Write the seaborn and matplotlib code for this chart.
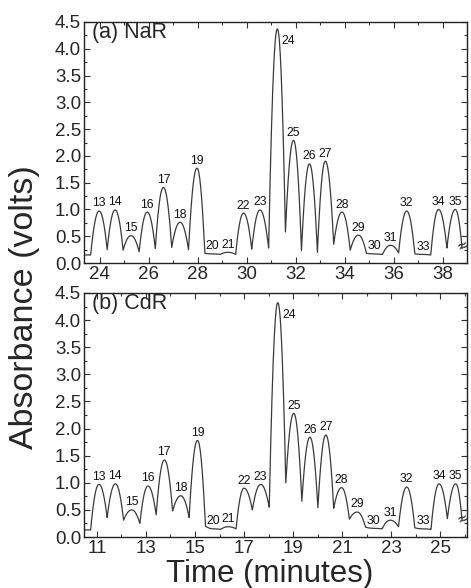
import numpy as np
import pandas as pd
import matplotlib
matplotlib.use("Agg")
import matplotlib.pyplot as plt
import seaborn as sns
from matplotlib.ticker import MultipleLocator, FormatStrFormatter

# ---------------- data ----------------
peak_ids = list(range(13, 36))

# (a) NaR
na_times = [23.97, 24.62, 25.27, 25.93, 26.59, 27.27, 27.96, 28.60, 29.22, 29.86,
            30.53, 31.24, 31.90, 32.55, 33.20, 33.88, 34.55, 35.20, 35.86, 36.52,
            37.18, 37.82, 38.50]
na_heights = [0.97, 0.99, 0.51, 0.95, 1.41, 0.76, 1.77, 0.17, 0.20, 0.93,
              0.99, 4.37, 2.29, 1.85, 1.90, 0.95, 0.52, 0.17, 0.33, 0.97,
              0.16, 1.00, 1.00]
na_valleys = [0.25, 0.24, 0.21, 0.27, 0.29, 0.25, 0.18, 0.16, 0.16, 0.26,
              0.28, 0.58, 0.23, 0.20, 0.35, 0.24, 0.18, 0.16, 0.19, 0.17,
              0.15, 0.28]
na_start = [23.35, 23.62, 0.15]   # x left, x rise, baseline
na_end = [38.78, 0.27]
na_xlim = [23.35, 38.98]
na_xticks = [24, 26, 28, 30, 32, 34, 36, 38]

# (b) CdR
cd_times = [11.08, 11.75, 12.42, 13.08, 13.75, 14.42, 15.10, 15.75, 16.35, 17.00,
            17.68, 18.38, 19.03, 19.69, 20.34, 20.98, 21.62, 22.30, 22.97, 23.64,
            24.30, 24.96, 25.64]
cd_heights = [0.97, 0.98, 0.50, 0.94, 1.42, 0.76, 1.78, 0.15, 0.19, 0.90,
              0.97, 4.32, 2.28, 1.84, 1.88, 0.91, 0.46, 0.16, 0.31, 0.92,
              0.15, 0.98, 0.98]
cd_valleys = [0.36, 0.31, 0.25, 0.41, 0.48, 0.36, 0.20, 0.14, 0.15, 0.50,
              0.55, 1.00, 0.66, 0.54, 0.53, 0.33, 0.18, 0.15, 0.19, 0.17,
              0.14, 0.34]
cd_start = [10.47, 10.74, 0.13]
cd_end = [25.90, 0.30]
cd_xlim = [10.47, 26.10]
cd_xticks = [11, 13, 15, 17, 19, 21, 23, 25]

# label placement offsets (peak 24 label sits to the right of the peak)
label_dx = {24: 0.45}
label_dy = {24: -0.36}


def shape(u):
    # steep walls near the valleys, rounded top, slightly softened valley
    power = 1 - (1 - u) ** 2.3
    smooth = 3 * u ** 2 - 2 * u ** 3
    return 0.85 * power + 0.15 * smooth


def build_trace(times, heights, valleys, start, end):
    vx = [start[1]] + [(times[i] + times[i + 1]) / 2 for i in range(len(times) - 1)] + [end[0]]
    vy = [start[2]] + list(valleys) + [end[1]]
    xs = [start[0]]
    ys = [start[2]]
    u = np.linspace(0, 1, 60)
    for i, (tp, hp) in enumerate(zip(times, heights)):
        xl, yl = vx[i], vy[i]
        xr, yr = vx[i + 1], vy[i + 1]
        xs.extend(xl + (tp - xl) * u)
        ys.extend(yl + (hp - yl) * shape(u))
        xs.extend(tp + (xr - tp) * u[1:])
        ys.extend(yr + (hp - yr) * shape(1 - u[1:]))
    return pd.DataFrame({"t": xs, "v": ys})


sns.set_style("ticks")
plt.rcParams["font.family"] = ["Liberation Sans", "DejaVu Sans"]

W, H = 471, 588
fig = plt.figure(figsize=(W / 100, H / 100), dpi=100)
ax1 = fig.add_axes([84 / W, 1 - 263 / H, 383 / W, 241 / H])
ax2 = fig.add_axes([84 / W, 1 - 537 / H, 383 / W, 244 / H])

panels = [
    (ax1, na_times, na_heights, na_valleys, na_start, na_end, na_xlim, na_xticks, "(a) NaR"),
    (ax2, cd_times, cd_heights, cd_valleys, cd_start, cd_end, cd_xlim, cd_xticks, "(b) CdR"),
]

line_color = "#3a3a3a"
for ax, times, heights, valleys, start, end, xlim, xticks, title in panels:
    df = build_trace(times, heights, valleys, start, end)
    sns.lineplot(data=df, x="t", y="v", ax=ax, color=line_color, lw=0.9,
                 sort=False, estimator=None)
    for pid, tp, hp in zip(peak_ids, times, heights):
        ax.text(tp + label_dx.get(pid, 0.0), hp + 0.03 + label_dy.get(pid, 0.0), str(pid),
                ha="center", va="bottom", fontsize=8.8, color="#111111")
    ax.text(end[0] + 0.05, end[1] + 0.03, "≈", ha="center", va="center",
            fontsize=12, rotation=25, color="#222222")
    ax.set_xlim(*xlim)
    ax.set_ylim(0, 4.5)
    ax.set_xticks(xticks)
    ax.xaxis.set_minor_locator(MultipleLocator(1))
    ax.set_yticks(np.arange(0, 4.51, 0.5))
    ax.yaxis.set_major_formatter(FormatStrFormatter("%.1f"))
    ax.yaxis.set_minor_locator(MultipleLocator(0.25))
    ax.tick_params(which="both", direction="in", top=True, right=True,
                   labelsize=13.5, pad=2, width=0.8, color="#333333")
    ax.tick_params(which="major", length=4)
    ax.tick_params(which="minor", length=2)
    for s in ax.spines.values():
        s.set_linewidth(1.0)
        s.set_color("#222222")
    ax.set_xlabel("")
    ax.set_ylabel("")
    ax.text(0.02, 0.955, title, transform=ax.transAxes, ha="left", va="center",
            fontsize=15.5)

fig.text(25 / W, 1 - 307 / H, "Absorbance (volts)", rotation=90, ha="center",
         va="center", fontsize=24.5)
fig.text(270 / W, 1 - 582 / H, "Time (minutes)", ha="center", va="baseline",
         fontsize=22.5)

fig.savefig("out.png", dpi=100, facecolor="white")
